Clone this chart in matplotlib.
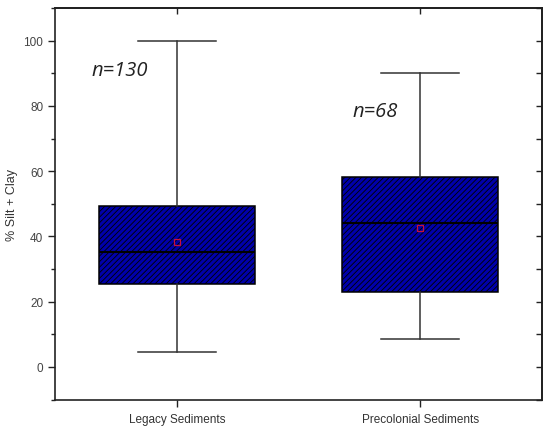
import matplotlib.pyplot as plt
from matplotlib.ticker import MultipleLocator

groups = ["Legacy Sediments", "Precolonial Sediments"]
counts = [130, 68]
whislo = [4.6, 8.7]
q1 = [25.3, 23.0]
med = [35.3, 44.0]
q3 = [49.4, 58.1]
whishi = [100.0, 90.0]
means = [38.4, 42.5]

plt.rcParams['font.family'] = ['Liberation Sans', 'DejaVu Sans']
plt.rcParams['hatch.linewidth'] = 0.6
plt.rcParams['hatch.color'] = 'black'

fig = plt.figure(figsize=(5.5, 4.35), dpi=100)
ax = fig.add_axes([0.1, 0.0793, 0.8855, 0.8997])

stats = []
for i in range(len(groups)):
    stats.append({"label": groups[i], "whislo": whislo[i], "q1": q1[i],
                  "med": med[i], "q3": q3[i], "whishi": whishi[i],
                  "mean": means[i], "fliers": []})

bp = ax.bxp(stats, positions=[1, 2], widths=0.64, patch_artist=True,
            showmeans=True, showfliers=False,
            boxprops=dict(facecolor='#0000aa', edgecolor='black',
                          linewidth=1.1, hatch='//////'),
            medianprops=dict(color='black', linewidth=1.5),
            whiskerprops=dict(color='#333333', linewidth=1.1),
            capprops=dict(color='#333333', linewidth=1.1),
            capwidths=0.32,
            meanprops=dict(marker='s', markersize=5, markerfacecolor='none',
                           markeredgecolor='#c8103c', markeredgewidth=0.9))

ax.text(0.65, 91, "n=" + str(counts[0]), fontsize=14.5, style='italic',
        family=['Open Sans', 'DejaVu Sans'], color='#222222', va='center')
ax.text(1.72, 78.5, "n=" + str(counts[1]), fontsize=14.5, style='italic',
        family=['Open Sans', 'DejaVu Sans'], color='#222222', va='center')

ax.set_xlim(0.5, 2.5)
ax.set_ylim(-10, 110)
ax.yaxis.set_major_locator(MultipleLocator(20))
ax.yaxis.set_minor_locator(MultipleLocator(10))
ax.set_yticks([0, 20, 40, 60, 80, 100])
ax.set_ylabel("% Silt + Clay", fontsize=9, color='#333333')
ax.yaxis.set_label_coords(-0.075, 0.5)

ax.tick_params(axis='y', which='major', direction='out', length=5,
               width=1, labelsize=8.5, labelcolor='#444444', color='#222222')
ax.tick_params(axis='y', which='minor', direction='out', length=3,
               width=1, color='#222222')
ax.tick_params(axis='x', direction='out', length=5, width=1,
               labelsize=8.5, labelcolor='#333333', color='#222222', pad=5)

for s in ax.spines.values():
    s.set_linewidth(1.2)
    s.set_color('#222222')

right = ax.secondary_yaxis('right')
right.yaxis.set_major_locator(MultipleLocator(10))
right.tick_params(direction='in', length=4, width=1, labelright=False,
                  color='#222222')
right.spines['right'].set_linewidth(1.2)

top = ax.secondary_xaxis('top')
top.set_xticks([1, 2])
top.tick_params(direction='in', length=4, width=1, labeltop=False,
                color='#222222')
top.spines['top'].set_linewidth(1.2)

fig.savefig("out.png", dpi=100)
